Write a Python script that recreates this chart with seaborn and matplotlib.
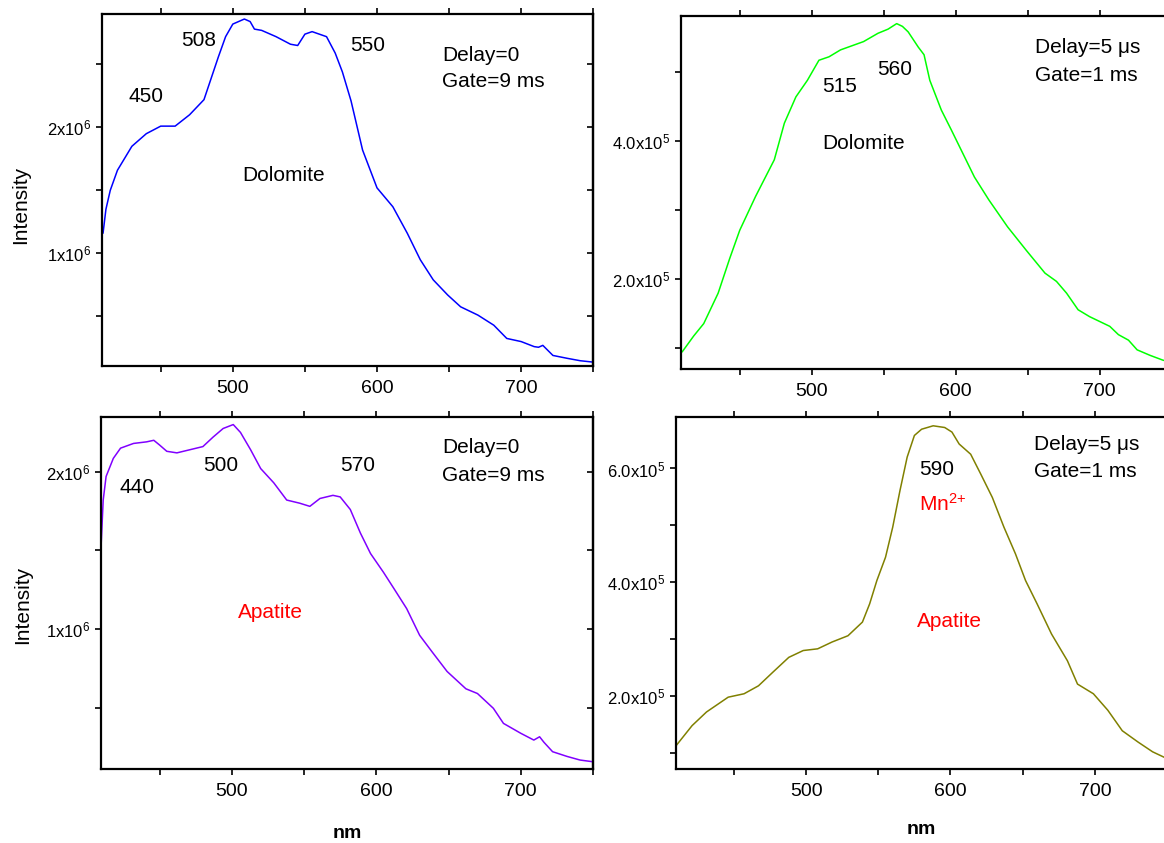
import numpy as np
import pandas as pd
import matplotlib
matplotlib.use('Agg')
import matplotlib.pyplot as plt
import seaborn as sns
from matplotlib.ticker import MultipleLocator

# --- spectra (wavelength nm, intensity counts) ---
# Dolomite, delay 0, gate 9 ms
dol0_nm = [410, 412, 415, 420, 430, 440, 450, 460, 470, 480, 490, 495, 500, 508, 512, 515,
           520, 530, 540, 545, 550, 555, 565, 571, 576, 582, 590, 600, 611, 621, 630, 639,
           649, 658, 670, 681, 690, 700, 709, 712, 715, 722, 732, 741, 750]
dol0_int = [1.16, 1.35, 1.50, 1.66, 1.85, 1.95, 2.01, 2.01, 2.10, 2.22, 2.56, 2.72, 2.82, 2.86,
            2.84, 2.78, 2.77, 2.72, 2.66, 2.65, 2.74, 2.76, 2.72, 2.59, 2.44, 2.21, 1.82, 1.52,
            1.37, 1.16, 0.95, 0.79, 0.67, 0.576, 0.51, 0.43, 0.325, 0.30, 0.26, 0.255, 0.27,
            0.19, 0.167, 0.148, 0.137]  # x1e6

# Dolomite, delay 5 us, gate 1 ms
dol5_nm = [410, 418, 425, 435, 443, 450, 461, 474, 481, 489, 497, 505, 512, 520, 528, 536,
           546, 553, 559, 563, 567, 574, 578, 582, 590, 597, 605, 613, 623, 636, 649, 662,
           670, 677, 685, 693, 700, 707, 713, 720, 726, 735, 744, 750]
dol5_int = [0.95, 1.18, 1.36, 1.80, 2.30, 2.71, 3.20, 3.73, 4.26, 4.64, 4.88, 5.17, 5.22, 5.32,
            5.38, 5.44, 5.56, 5.62, 5.70, 5.66, 5.58, 5.36, 5.25, 4.88, 4.45, 4.16, 3.82, 3.48,
            3.15, 2.76, 2.42, 2.09, 1.97, 1.80, 1.56, 1.46, 1.39, 1.32, 1.20, 1.12, 0.98, 0.90,
            0.83, 0.80]  # x1e5

# Apatite, delay 0, gate 9 ms
apa0_nm = [409.5, 411, 413, 418, 423, 432, 441, 446, 450, 455, 462, 471, 480, 487, 494, 501,
           506, 513, 520, 529, 538, 547, 554, 561, 570, 575, 582, 589, 596, 605, 612, 621,
           630, 639, 649, 662, 670, 681, 688, 700, 709, 713, 716, 722, 732, 741, 750]
apa0_int = [1.52, 1.82, 1.97, 2.085, 2.15, 2.18, 2.19, 2.20, 2.17, 2.13, 2.12, 2.14, 2.16, 2.22,
            2.275, 2.30, 2.25, 2.14, 2.02, 1.93, 1.82, 1.80, 1.78, 1.83, 1.85, 1.84, 1.76, 1.61,
            1.48, 1.36, 1.26, 1.13, 0.96, 0.85, 0.73, 0.62, 0.59, 0.496, 0.40, 0.337, 0.294,
            0.315, 0.28, 0.22, 0.19, 0.167, 0.156]  # x1e6

# Apatite, delay 5 us, gate 1 ms
apa5_nm = [410, 421, 431, 446, 457, 467, 477, 488, 498, 508, 518, 529, 539, 544, 549, 555,
           560, 565, 570, 575, 580, 588, 596, 601, 606, 614, 621, 629, 637, 645, 652, 660,
           670, 681, 688, 699, 709, 719, 730, 740, 750]
apa5_int = [1.13, 1.48, 1.72, 1.98, 2.04, 2.18, 2.42, 2.68, 2.80, 2.83, 2.95, 3.06, 3.30, 3.62,
            4.03, 4.44, 4.97, 5.61, 6.20, 6.58, 6.69, 6.75, 6.72, 6.64, 6.43, 6.25, 5.90, 5.49,
            4.97, 4.50, 4.03, 3.62, 3.09, 2.62, 2.21, 2.04, 1.75, 1.39, 1.19, 1.02, 0.90]  # x1e5

big_ticks = [1e6, 2e6]
big_labels = ['1x10$^{6}$', '2x10$^{6}$']
small_ticks_tr = [2e5, 4e5]
small_labels_tr = ['2.0x10$^{5}$', '4.0x10$^{5}$']
small_ticks_br = [2e5, 4e5, 6e5]
small_labels_br = ['2.0x10$^{5}$', '4.0x10$^{5}$', '6.0x10$^{5}$']

sns.set_theme(style='ticks')
plt.rcParams['font.family'] = ['Liberation Sans', 'DejaVu Sans']
plt.rcParams['mathtext.fontset'] = 'custom'
plt.rcParams['mathtext.rm'] = 'Liberation Sans'
plt.rcParams['mathtext.default'] = 'regular'
for k in ('text.color', 'axes.labelcolor', 'xtick.color', 'ytick.color', 'axes.edgecolor'):
    plt.rcParams[k] = 'black'

fig = plt.figure(figsize=(11.64, 8.43), dpi=100)
ax_tl = fig.add_axes([0.0879, 0.5658, 0.4218, 0.4176])
ax_tr = fig.add_axes([0.5848, 0.5623, 0.4218, 0.4187])
ax_bl = fig.add_axes([0.0868, 0.0874, 0.4227, 0.4183])
ax_br = fig.add_axes([0.5808, 0.0874, 0.4218, 0.4183])


def draw(ax, nm, inten, scale, color):
    df = pd.DataFrame({'nm': nm, 'intensity': np.array(inten) * scale})
    sns.lineplot(data=df, x='nm', y='intensity', ax=ax, color=color, linewidth=1.1, sort=False)
    ax.set_xlabel('')
    ax.set_ylabel('')


def style(ax, xlim, ylim, yticks, ylabels, yminor, right_ticks=True):
    ax.set_xlim(xlim)
    ax.set_ylim(ylim)
    ax.xaxis.set_major_locator(MultipleLocator(100))
    ax.xaxis.set_minor_locator(MultipleLocator(50))
    ax.set_yticks(yticks, ylabels)
    ax.yaxis.set_minor_locator(MultipleLocator(yminor))
    ax.tick_params(axis='x', which='both', direction='out', top=True, length=4, width=1.2,
                   labelsize=14, pad=6)
    ax.tick_params(axis='y', which='both', direction='out', length=4, width=1.2,
                   labelsize=12, pad=4)
    for s in ax.spines.values():
        s.set_linewidth(1.6)
    if right_ticks:
        sec = ax.secondary_yaxis('right')
        sec.set_yticks(yticks)
        sec.yaxis.set_minor_locator(MultipleLocator(yminor))
        sec.tick_params(which='both', direction='in', length=4, width=1.2, labelright=False)
        sec.spines['right'].set_linewidth(1.6)


draw(ax_tl, dol0_nm, dol0_int, 1e6, '#0000ff')
draw(ax_tr, dol5_nm, dol5_int, 1e5, '#00ff00')
draw(ax_bl, apa0_nm, apa0_int, 1e6, '#8000ff')
draw(ax_br, apa5_nm, apa5_int, 1e5, '#808000')

style(ax_tl, (409.5, 750), (1.06e5, 2.9e6), big_ticks, big_labels, 5e5)
style(ax_tr, (409, 750), (0.703e5, 5.81e5), small_ticks_tr, small_labels_tr, 1e5, False)
style(ax_bl, (409.5, 750), (1.08e5, 2.35e6), big_ticks, big_labels, 5e5)
style(ax_br, (409.9, 750), (0.712e5, 6.91e5), small_ticks_br, small_labels_br, 1e5, False)

fs = 15
# top left
ax_tl.text(440, 2.243e6, '450', fontsize=fs, ha='center', va='center')
ax_tl.text(476.4, 2.687e6, '508', fontsize=fs, ha='center', va='center')
ax_tl.text(593.3, 2.648e6, '550', fontsize=fs, ha='center', va='center')
ax_tl.text(535, 1.621e6, 'Dolomite', fontsize=fs, ha='center', va='center')
ax_tl.text(645.4, 2.574e6, 'Delay=0', fontsize=fs, ha='left', va='center')
ax_tl.text(645.4, 2.362e6, 'Gate=9 ms', fontsize=fs, ha='left', va='center')

# top right
ax_tr.text(519.4, 4.785e5, '515', fontsize=fs, ha='center', va='center')
ax_tr.text(557.6, 5.03e5, '560', fontsize=fs, ha='center', va='center')
ax_tr.text(536.2, 3.96e5, 'Dolomite', fontsize=fs, ha='center', va='center')
ax_tr.text(655, 5.36e5, 'Delay=5 μs', fontsize=fs, ha='left', va='center')
ax_tr.text(655, 4.95e5, 'Gate=1 ms', fontsize=fs, ha='left', va='center')

# bottom left
ax_bl.text(434.7, 1.898e6, '440', fontsize=fs, ha='center', va='center')
ax_bl.text(492.2, 2.038e6, '500', fontsize=fs, ha='center', va='center')
ax_bl.text(587.1, 2.038e6, '570', fontsize=fs, ha='center', va='center')
ax_bl.text(526.9, 1.106e6, 'Apatite', fontsize=fs, ha='center', va='center', color='red')
ax_bl.text(645.4, 2.151e6, 'Delay=0', fontsize=fs, ha='left', va='center')
ax_bl.text(645.4, 1.979e6, 'Gate=9 ms', fontsize=fs, ha='left', va='center')

# bottom right
ax_br.text(590.6, 5.975e5, '590', fontsize=fs, ha='center', va='center')
ax_br.text(578.3, 5.26e5, 'Mn$^{2{+}}$', fontsize=fs, ha='left', va='baseline', color='red')
ax_br.text(599.1, 3.315e5, 'Apatite', fontsize=fs, ha='center', va='center', color='red')
ax_br.text(658, 6.43e5, 'Delay=5 μs', fontsize=fs, ha='left', va='center')
ax_br.text(658, 5.95e5, 'Gate=1 ms', fontsize=fs, ha='left', va='center')

ax_tl.set_ylabel('Intensity', fontsize=15)
ax_tl.yaxis.set_label_coords(-0.166, 0.457)
ax_bl.set_ylabel('Intensity', fontsize=15)
ax_bl.yaxis.set_label_coords(-0.159, 0.466)
for ax, yc in ((ax_bl, -0.181), (ax_br, -0.172)):
    ax.set_xlabel('nm', fontsize=14, fontweight='bold')
    ax.xaxis.set_label_coords(0.5, yc)
    ax.xaxis.label.set_verticalalignment('center')
for ax in (ax_tl, ax_bl):
    ax.yaxis.label.set_verticalalignment('center')

fig.savefig('out.png', dpi=100)
